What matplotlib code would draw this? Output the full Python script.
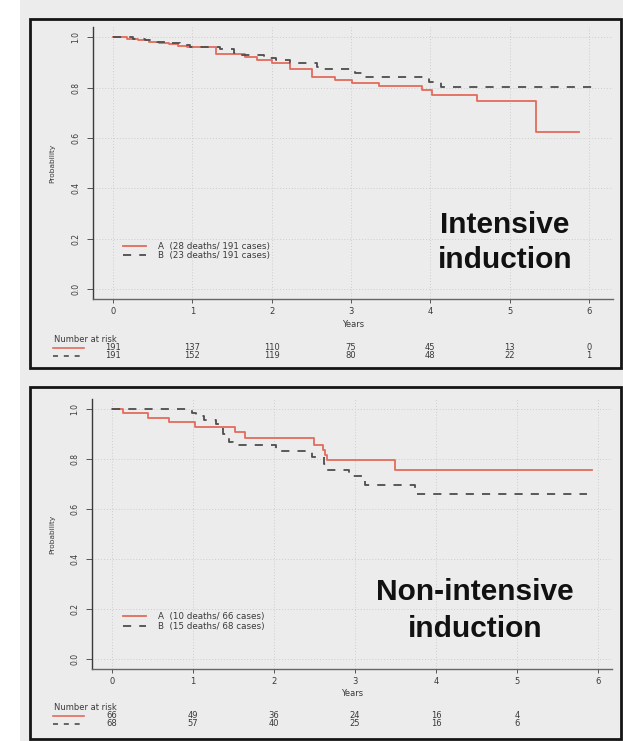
import matplotlib.pyplot as plt
from matplotlib.patches import Rectangle
from matplotlib.lines import Line2D

W, H = 623, 741

years = [0, 1, 2, 3, 4, 5, 6]
prob_ticks = [0.0, 0.2, 0.4, 0.6, 0.8, 1.0]

# intensive induction
int_a_t = [0, 0.18, 0.32, 0.45, 0.58, 0.7, 0.82, 0.93, 1.3, 1.66, 1.82, 2.0, 2.23, 2.51, 2.8, 3.01, 3.35, 3.89, 4.02, 4.59, 5.33, 5.88]
int_a_s = [1.0, 0.995, 0.99, 0.984, 0.979, 0.973, 0.968, 0.963, 0.935, 0.922, 0.912, 0.897, 0.873, 0.844, 0.831, 0.82, 0.807, 0.791, 0.771, 0.747, 0.623, 0.623]
int_b_t = [0, 0.25, 0.4, 0.55, 0.7, 0.85, 0.97, 1.35, 1.52, 1.58, 1.9, 2.06, 2.23, 2.57, 2.65, 3.05, 3.14, 3.98, 4.14, 6.06]
int_b_s = [1.0, 0.995, 0.99, 0.984, 0.977, 0.97, 0.963, 0.955, 0.937, 0.93, 0.917, 0.91, 0.9, 0.884, 0.873, 0.86, 0.841, 0.825, 0.804, 0.804]
int_risk_a = [191, 137, 110, 75, 45, 13, 0]
int_risk_b = [191, 152, 119, 80, 48, 22, 1]
int_labels = ["A  (28 deaths/ 191 cases)", "B  (23 deaths/ 191 cases)"]

# non-intensive induction
non_a_t = [0, 0.14, 0.44, 0.70, 1.02, 1.52, 1.64, 2.49, 2.61, 2.63, 2.66, 3.49, 5.93]
non_a_s = [1.0, 0.985, 0.966, 0.947, 0.93, 0.907, 0.883, 0.857, 0.837, 0.818, 0.797, 0.757, 0.757]
non_b_t = [0, 0.99, 1.04, 1.13, 1.28, 1.33, 1.37, 1.41, 1.45, 1.49, 2.03, 2.47, 2.62, 2.66, 2.92, 3.12, 3.74, 5.86]
non_b_s = [1.0, 0.985, 0.971, 0.956, 0.941, 0.926, 0.9, 0.885, 0.87, 0.855, 0.833, 0.81, 0.782, 0.757, 0.731, 0.698, 0.662, 0.662]
non_risk_a = [66, 49, 36, 24, 16, 4]
non_risk_b = [68, 57, 40, 25, 16, 6]
non_labels = ["A  (10 deaths/ 66 cases)", "B  (15 deaths/ 68 cases)"]

RED = "#e36b5d"
GREY = "#4d4d4d"
TXT = "#3a3a3a"
BG = "#ececec"
DASH = (0, (4.5, 4.5))

plt.rcParams['font.family'] = ['DejaVu Sans']

fig = plt.figure(figsize=(W / 100, H / 100), dpi=100)
fig.patch.set_facecolor(BG)
fig.patches.append(Rectangle((0, 0), 20 / W, 1, transform=fig.transFigure,
                             facecolor="white", edgecolor="none", zorder=0))


def fx(x):
    return x / W


def fy(y):
    return 1 - y / H


def panel(box, left, right, top, bottom, x0, x6, y1, y0,
          a_t, a_s, b_t, b_s, risk_a, risk_b, labels, title, title_x, title_y):
    # frame around the panel
    fig.patches.append(Rectangle((fx(box[0]), fy(box[3])), (box[2] - box[0]) / W, (box[3] - box[1]) / H,
                                 transform=fig.transFigure, fill=False, edgecolor="#151515",
                                 linewidth=2, zorder=5))

    pxyr = (x6 - x0) / 6.0
    pxp = y0 - y1
    ax = fig.add_axes([fx(left), fy(bottom), (right - left) / W, (bottom - top) / H])
    ax.set_facecolor("none")
    ax.set_xlim((left - x0) / pxyr, (right - x0) / pxyr)
    ax.set_ylim(-(bottom - y0) / pxp, 1 + (y1 - top) / pxp)
    for s in ["top", "right"]:
        ax.spines[s].set_visible(False)
    ax.spines["left"].set_color("#3a3a3a")
    ax.spines["left"].set_linewidth(1.0)
    ax.spines["bottom"].set_color("#666666")
    ax.spines["bottom"].set_linewidth(1.0)
    ax.set_xticks(years)
    ax.set_yticks(prob_ticks)
    ax.set_yticklabels(["%.1f" % v for v in prob_ticks], rotation=90, va="center")
    ax.tick_params(axis="x", length=3, width=0.7, color="#555555", labelsize=6, labelcolor=TXT, pad=3)
    ax.tick_params(axis="y", length=4, width=0.7, color="#555555", labelsize=5.5, labelcolor=TXT, pad=5)
    ax.grid(True, color="#cdcdcd", linestyle=(0, (1, 2)), linewidth=0.7)

    ax.step(a_t, a_s, where="post", color=RED, lw=1.3, label=labels[0])
    ax.step(b_t, b_s, where="post", color=GREY, lw=1.3, ls=DASH, label=labels[1])

    h = bottom - top
    ax.text(0.5, (bottom - 325 - (box[1] - 19)) / h, "Years", transform=ax.transAxes,
            ha="center", va="center", fontsize=6, color=TXT)
    ax.text((52.6 - left) / (right - left), 0.5, "Probability", transform=ax.transAxes,
            ha="center", va="center", rotation=90, fontsize=5.3, color=TXT)

    ax.legend(loc="upper left", bbox_to_anchor=((123 - left) / (right - left), (bottom - (y0 - 0.19 * pxp + 0.5)) / h),
              frameon=False, fontsize=6.3, handlelength=2.6, handletextpad=1.4,
              labelspacing=0.05, borderpad=0, borderaxespad=0, labelcolor=TXT)

    # number at risk table
    off = box[1] - 19
    fig.text(fx(54.5), fy(340 + off), "Number at risk", ha="left", va="center", fontsize=6, color=TXT)
    ra = 347.8 + off
    rb = 355.8 + off
    fig.add_artist(Line2D([fx(53), fx(84)], [fy(ra), fy(ra)], color=RED, lw=1.2))
    fig.add_artist(Line2D([fx(53), fx(84)], [fy(rb), fy(rb)], color=GREY, lw=1.2, ls=(0, (3, 3.5))))
    tr = ax.get_xaxis_transform()
    for i, n in enumerate(risk_a):
        ax.text(years[i], (bottom - ra) / h, str(n), transform=tr, ha="center", va="center",
                fontsize=6, color=TXT, clip_on=False)
    for i, n in enumerate(risk_b):
        ax.text(years[i], (bottom - rb) / h, str(n), transform=tr, ha="center", va="center",
                fontsize=6, color=TXT, clip_on=False)

    fig.text(fx(title_x), fy(title_y[0]), title[0], ha="center", va="baseline", fontsize=21.5,
             fontweight="bold", family="Liberation Sans", color="#111111")
    fig.text(fx(title_x), fy(title_y[1]), title[1], ha="center", va="baseline", fontsize=21.5,
             fontweight="bold", family="Liberation Sans", color="#111111")
    return ax


panel((30, 19, 621, 368), 93, 613, 27, 299, 113, 589, 37.5, 289,
      int_a_t, int_a_s, int_b_t, int_b_s, int_risk_a, int_risk_b, int_labels,
      ["Intensive", "induction"], 505, [233.3, 268.3])

panel((30, 387, 621, 739), 92, 612, 399, 669, 112, 598, 409, 659.3,
      non_a_t, non_a_s, non_b_t, non_b_s, non_risk_a, non_risk_b, non_labels,
      ["Non-intensive", "induction"], 475, [600, 636.7])

fig.savefig("out.png", dpi=100, facecolor=fig.get_facecolor())
